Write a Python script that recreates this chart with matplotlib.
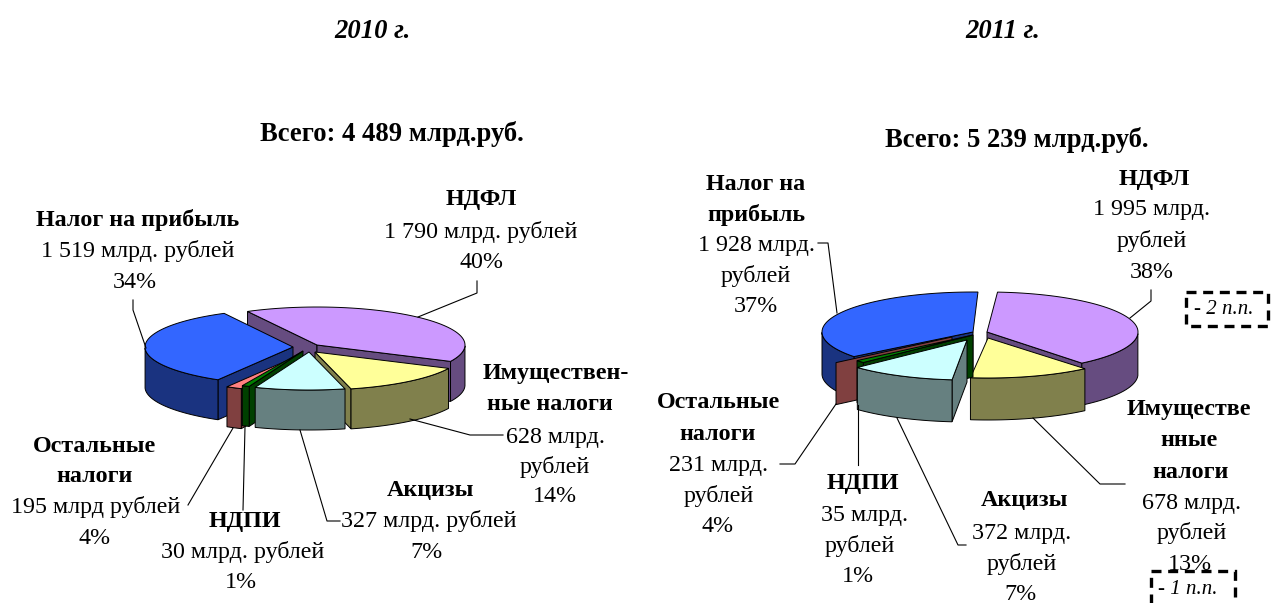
import numpy as np
import matplotlib
matplotlib.use('Agg')
import matplotlib.pyplot as plt
from matplotlib.patches import Polygon, Rectangle

plt.rcParams['font.family'] = ['Liberation Serif', 'DejaVu Serif']

# order round the pie, clockwise from the back
names = ['НДФЛ', 'Имущественные налоги', 'Акцизы', 'НДПИ', 'Остальные налоги', 'Налог на прибыль']
values_2010 = [1790, 628, 327, 30, 195, 1519]
values_2011 = [1995, 678, 372, 35, 231, 1928]

top_colors = ['#CC99FF', '#FFFF99', '#CCFFFF', '#008000', '#FF8080', '#3366FF']
side_colors = ['#664C80', '#80804C', '#668080', '#004000', '#804040', '#1A3380']

# pie layout in pixels
apex_2010 = [(317, 345), (315, 352), (309, 352), (303, 351), (302, 354), (293, 347)]
apex_2011 = [(987, 332), (988, 338), (967, 340), (973, 335), (952, 337), (973, 332)]
stretch_2010 = [1, 1, 1.35, 1.2, 0.4, 1]
stretch_2011 = [1, 1, 1.6, 1.5, 1, 0.98]
turn_2010 = [0, 0, 0, 0, 0, 0]
turn_2011 = [0, 1, 1, 0, 0, 14]
order_2010 = [0, 5, 1, 4, 3, 2]
order_2011 = [0, 5, 4, 1, 3, 2]

# text: (string, x, y, bold)
labels_2010 = [
    ('Налог на прибыль', 138, 219, True), ('1 519 млрд. рублей', 138, 250, False), ('34%', 135, 281, False),
    ('НДФЛ', 481, 199, True), ('1 790 млрд. рублей', 481, 231, False), ('40%', 481, 262, False),
    ('Имуществен-', 556, 373, True), ('ные налоги', 550, 404, True), ('628 млрд.', 555, 436, False),
    ('рублей', 555, 466, False), ('14%', 555, 496, False),
    ('Акцизы', 430, 489, True), ('327 млрд. рублей', 429, 520, False), ('7%', 427, 551, False),
    ('НДПИ', 245, 521, True), ('30 млрд. рублей', 243, 551, False), ('1%', 241, 582, False),
    ('Остальные', 95, 445, True), ('налоги', 95, 476, True), ('195 млрд рублей', 96, 506, False), ('4%', 95, 537, False),
]
labels_2011 = [
    ('Налог на', 756, 183, True), ('прибыль', 756, 214, True), ('1 928 млрд.', 756, 245, False),
    ('рублей', 756, 275, False), ('37%', 756, 306, False),
    ('НДФЛ', 1154, 178, True), ('1 995 млрд.', 1152, 209, False), ('рублей', 1152, 240, False), ('38%', 1152, 271, False),
    ('Имуществе', 1189, 409, True), ('нные', 1189, 440, True), ('налоги', 1191, 471, True),
    ('678 млрд.', 1192, 502, False), ('рублей', 1192, 532, False), ('13%', 1190, 563, False),
    ('Акцизы', 1024, 500, True), ('372 млрд.', 1022, 532, False), ('рублей', 1022, 563, False), ('7%', 1021, 593, False),
    ('НДПИ', 863, 483, True), ('35 млрд.', 865, 514, False), ('рублей', 860, 545, False), ('1%', 858, 575, False),
    ('Остальные', 718, 402, True), ('налоги', 718, 433, True), ('231 млрд.', 719, 464, False),
    ('рублей', 719, 495, False), ('4%', 718, 526, False),
]

# leader lines
leaders = [
    [(133, 300), (133, 310), (146, 348)],
    [(477, 281), (477, 293), (418, 317)],
    [(503, 435), (470, 435), (410, 419)],
    [(340, 521), (327, 521), (300, 430)],
    [(243, 510), (245, 427)],
    [(188, 505), (233, 428)],
    [(818, 243), (828, 243), (837, 313)],
    [(1151, 290), (1151, 301), (1130, 318)],
    [(1125, 484), (1100, 484), (1033, 418)],
    [(966, 545), (958, 545), (897, 418)],
    [(858, 405), (858, 465)],
    [(836, 404), (795, 464), (780, 464)],
]


def rim(apex, a, b, angles):
    t = np.radians(angles)
    return np.column_stack([apex[0] + a * np.cos(t), apex[1] - b * np.sin(t)])


def draw_pie(ax, values, apexes, stretch, turn, order, start, a, b, h, walls_only=(), no_end_wall=()):
    shares = np.array(values) / sum(values) * 360
    slices = []
    ang = start
    for i in range(len(values)):
        ang += turn[i]
        sweep = shares[i] * stretch[i]
        slices.append((ang, ang - sweep))
        ang -= sweep

    for i in order:
        a0, a1 = slices[i]
        apex = apexes[i]
        angles = np.linspace(a0, a1, 60)
        edge = rim(apex, a, b, angles)
        down = np.array([0, h])
        # radial walls only when they face the viewer
        show_start = np.sin(np.radians(a0 + 90)) < 0
        show_end = np.sin(np.radians(a1 - 90)) < 0 and i not in walls_only and i not in no_end_wall
        if show_start:
            wall = [apex, edge[0], edge[0] + down, np.array(apex) + down]
            ax.add_patch(Polygon(wall, fc=side_colors[i], ec='black', lw=0.7))
        if show_end:
            wall = [apex, edge[-1], edge[-1] + down, np.array(apex) + down]
            ax.add_patch(Polygon(wall, fc=side_colors[i], ec='black', lw=0.7))
        if i in walls_only:
            continue
        front = edge[np.sin(np.radians(angles)) <= 0]
        if len(front) > 1:
            wall = np.vstack([front, (front + down)[::-1]])
            ax.add_patch(Polygon(wall, fc=side_colors[i], ec='black', lw=0.7))
        ax.add_patch(Polygon(np.vstack([[apex], edge]), fc=top_colors[i], ec='black', lw=0.7))


fig = plt.figure(figsize=(12.71, 6.03), dpi=100)
ax = fig.add_axes([0, 0, 1, 1])
ax.set_xlim(0, 1271)
ax.set_ylim(603, 0)
ax.axis('off')

draw_pie(ax, values_2010, apex_2010, stretch_2010, turn_2010, order_2010, 118, 148, 38, 40)
draw_pie(ax, values_2011, apex_2011, stretch_2011, turn_2011, order_2011, 86, 151, 40, 42,
         walls_only=(4,), no_end_wall=(5,))

for line in leaders:
    ax.plot([p[0] for p in line], [p[1] for p in line], color='black', lw=0.8)

for s, x, y, bold in labels_2010 + labels_2011:
    ax.text(x, y + 1, s, ha='center', va='center', fontsize=17.3, fontweight='bold' if bold else 'normal')

ax.text(372, 31, '2010 г.', ha='center', va='center', fontsize=19.2, fontweight='bold', style='italic')
ax.text(1003, 31, '2011 г.', ha='center', va='center', fontsize=19.2, fontweight='bold', style='italic')
ax.text(392, 134, 'Всего: 4 489 млрд.руб.', ha='center', va='center', fontsize=19.2, fontweight='bold')
ax.text(1017, 140, 'Всего: 5 239 млрд.руб.', ha='center', va='center', fontsize=19.2, fontweight='bold')

ax.add_patch(Rectangle((1186, 292), 82, 34, fill=False, ec='black', lw=2.4, ls=(0, (3, 2))))
ax.add_patch(Rectangle((1151, 571), 84, 40, fill=False, ec='black', lw=2.4, ls=(0, (3, 2))))
ax.text(1224, 310, '- 2 п.п.', ha='center', va='center', fontsize=15, style='italic')
ax.text(1188, 589, '- 1 п.п.', ha='center', va='center', fontsize=15, style='italic')

fig.savefig('out.png', dpi=100)
